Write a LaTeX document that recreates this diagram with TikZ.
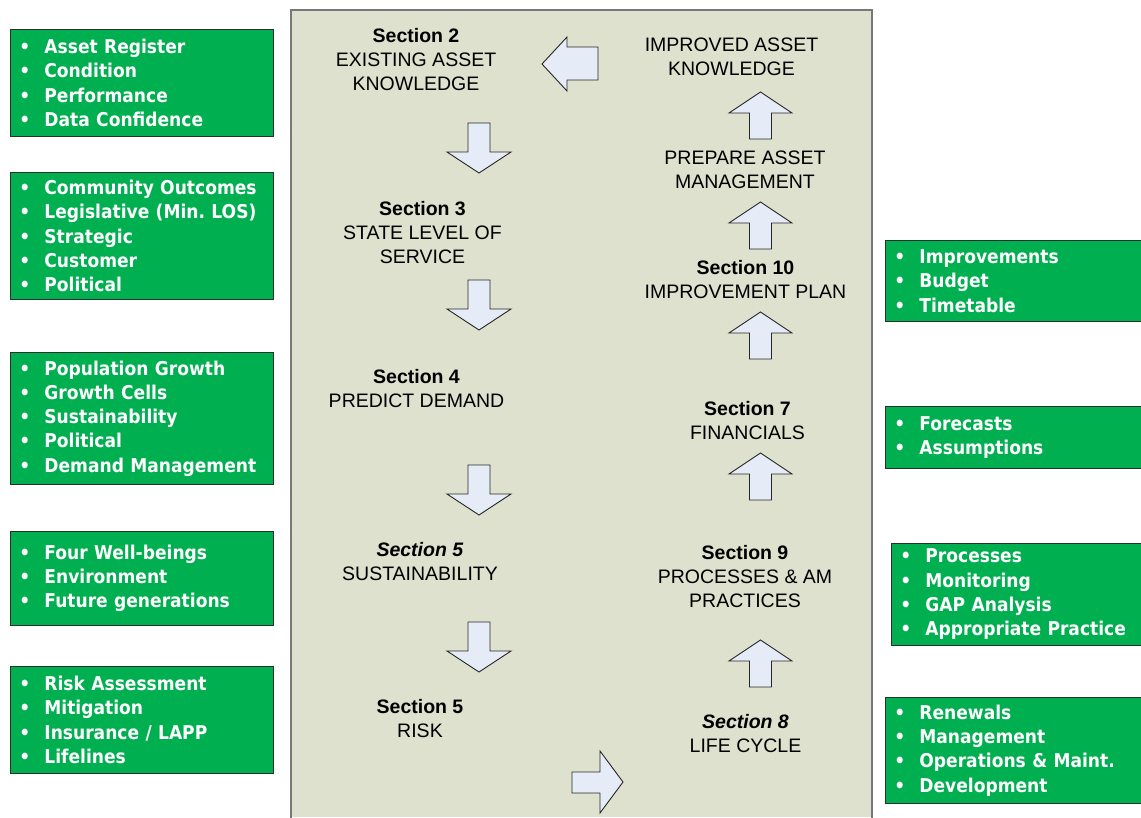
\documentclass[tikz,border=0pt]{standalone}
\usepackage{fontspec}
\setmainfont{Liberation Sans}
\newfontfamily\gfont{DejaVu Sans}[FakeStretch=0.9]
\definecolor{panelfill}{RGB}{221,225,205}
\definecolor{panelborder}{RGB}{120,120,120}
\definecolor{arrfill}{RGB}{230,236,247}
\definecolor{ggreen}{RGB}{0,176,80}
\definecolor{gborder}{RGB}{40,50,40}
\newcommand{\gi}[1]{\makebox[25pt][l]{\textbullet}#1}
\frenchspacing
\begin{document}
\begin{tikzpicture}[x=1pt,y=-1pt,
  blockarrow/.style={draw=black!85,fill=arrfill,line width=0.9pt,line join=miter},
  ctext/.style={font=\fontsize{19.5}{24}\selectfont,align=center,inner sep=0pt},
  gbox/.style={draw=gborder,fill=ggreen,text=white,line width=0.9pt,
    font=\gfont\bfseries\fontsize{19}{24.3}\selectfont,align=left,
    anchor=north west,inner xsep=9pt,inner ysep=0pt},
  gleft/.style={gbox,text width=245pt,minimum width=263pt},
  gright/.style={gbox,text width=240pt,minimum width=258pt},
  downarr/.pic={\draw[blockarrow] (-11,0) -- (11,0) -- (11,29) -- (32,29) -- (0,50) -- (-32,29) -- (-11,29) -- cycle;},
  uparr/.pic={\draw[blockarrow] (0,0) -- (31.5,21) -- (11,21) -- (11,47) -- (-11,47) -- (-11,21) -- (-31.5,21) -- cycle;}
]
\useasboundingbox (0,0) rectangle (1141,817);
% central panel
\fill[panelfill] (291,10) rectangle (872,817);
\draw[panelborder,line width=1.1pt] (291,822) -- (291,10) -- (872,10) -- (872,822);

% left column texts
\node[ctext] (s2) at (416,60) {\textbf{Section 2}\\EXISTING ASSET\\KNOWLEDGE};
\node[ctext] (s3) at (422.5,233) {\textbf{Section 3}\\STATE LEVEL OF\\SERVICE};
\node[ctext] (s4) at (416.5,389) {\textbf{Section 4}\\PREDICT DEMAND};
\node[ctext] (s5a) at (420,562) {\textbf{\textit{Section 5}}\\SUSTAINABILITY};
\node[ctext] (s5b) at (420,719) {\textbf{Section 5}\\RISK};
% right column texts
\node[ctext] (imp) at (731.5,57) {IMPROVED ASSET\\KNOWLEDGE};
\node[ctext] (prep) at (745,170) {PREPARE ASSET\\MANAGEMENT};
\node[ctext] (s10) at (745.5,280) {\textbf{Section 10}\\IMPROVEMENT PLAN};
\node[ctext] (s7) at (747.5,421) {\textbf{Section 7}\\FINANCIALS};
\node[ctext] (s9) at (745,577) {\textbf{Section 9}\\PROCESSES \& AM\\PRACTICES};
\node[ctext] (s8) at (745.5,734) {\textbf{\textit{Section 8}}\\LIFE CYCLE};

% down arrows
\pic (d1) at (479,123) {downarr};
\pic (d2) at (479,280) {downarr};
\pic (d3) at (479,465) {downarr};
\pic (d4) at (479,622) {downarr};
% up arrows
\pic (u1) at (760.5,92) {uparr};
\pic (u2) at (760.5,202) {uparr};
\pic (u3) at (760.5,312) {uparr};
\pic (u4) at (760.5,453) {uparr};
\pic (u5) at (760.5,640) {uparr};
% left arrow (top)
\draw[blockarrow] (542,64) -- (567,37) -- (567,47) -- (598,47) -- (598,80) -- (567,80) -- (567,91) -- cycle;
% right arrow (bottom)
\draw[blockarrow] (572,772) -- (600,772) -- (600,751) -- (623,782) -- (600,813) -- (600,793) -- (572,793) -- cycle;

% green boxes left
\node[gleft,minimum height=107pt] (g1) at (10,29) {\gi{Asset Register}\\\gi{Condition}\\\gi{Performance}\\\gi{Data Confidence}};
\node[gleft,minimum height=127pt] (g2) at (10,172) {\gi{Community Outcomes}\\\gi{Legislative (Min. LOS)}\\\gi{Strategic}\\\gi{Customer}\\\gi{Political}};
\node[gleft,minimum height=132pt] (g3) at (10,352) {\gi{Population Growth}\\\gi{Growth Cells}\\\gi{Sustainability}\\\gi{Political}\\\gi{Demand Management}};
\node[gleft,minimum height=94pt] (g4) at (10,531) {\gi{Four Well-beings}\\\gi{Environment}\\\gi{Future generations}};
\node[gleft,minimum height=107pt] (g5) at (10,666) {\gi{Risk Assessment}\\\gi{Mitigation}\\\gi{Insurance / LAPP}\\\gi{Lifelines}};
% green boxes right
\node[gright,minimum height=81pt] (r1) at (885,240) {\gi{Improvements}\\\gi{Budget}\\\gi{Timetable}};
\node[gright,minimum height=62pt] (r2) at (885,406) {\gi{Forecasts}\\\gi{Assumptions}};
\node[gright,minimum height=102pt] (r3) at (891,543) {\gi{Processes}\\\gi{Monitoring}\\\gi{GAP Analysis}\\\gi{Appropriate Practice}};
\node[gright,minimum height=106pt] (r4) at (885,697) {\gi{Renewals}\\\gi{Management}\\\gi{Operations \& Maint.}\\\gi{Development}};
\end{tikzpicture}
\end{document}
